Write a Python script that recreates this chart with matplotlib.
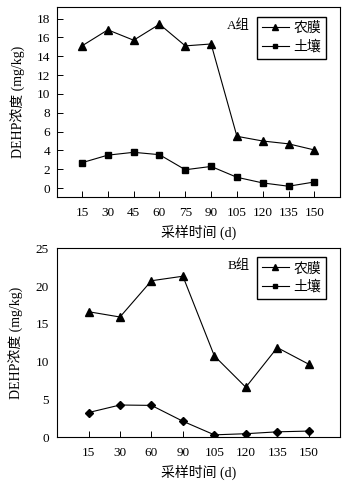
import matplotlib
matplotlib.use("Agg")
import matplotlib.pyplot as plt
from matplotlib.lines import Line2D

plt.rcParams['font.family'] = ['Liberation Serif', 'Noto Sans CJK SC']
plt.rcParams['font.size'] = 9.5

# group A
days_a = [15, 30, 45, 60, 75, 90, 105, 120, 135, 150]
film_a = [15.1, 16.8, 15.7, 17.4, 15.1, 15.3, 5.5, 5.0, 4.7, 4.05]
soil_a = [2.7, 3.5, 3.8, 3.55, 1.95, 2.3, 1.15, 0.55, 0.2, 0.65]

# group B (categorical x)
days_b = ['15', '30', '60', '90', '105', '120', '135', '150']
film_b = [16.6, 15.9, 20.7, 21.3, 10.75, 6.6, 11.85, 9.65]
soil_b = [3.25, 4.25, 4.2, 2.1, 0.3, 0.45, 0.7, 0.8]

fig = plt.figure(figsize=(3.5, 4.83), dpi=100)
ax1 = fig.add_axes([0.163, 0.592, 0.809, 0.393])
ax2 = fig.add_axes([0.163, 0.095, 0.809, 0.391])

lw = 0.8
leg_kw = dict(loc='upper right', frameon=True, fancybox=False, edgecolor='black',
              framealpha=1, handlelength=1.9, borderpad=0.35, labelspacing=0.35,
              handletextpad=0.35, borderaxespad=0, fontsize=10, markerscale=0.75)

ax1.plot(days_a, film_a, color='black', lw=lw, marker='^', ms=5.5, label='农膜')
ax1.plot(days_a, soil_a, color='black', lw=lw, marker='s', ms=4.5, label='土壤')
ax1.set_xlim(0.5, 165)
ax1.set_ylim(-0.95, 19.2)
ax1.set_xticks(days_a)
ax1.set_yticks(range(0, 19, 2))
ax1.text(0.64, 0.905, 'A组', transform=ax1.transAxes, ha='center', va='center')
ax1.legend(bbox_to_anchor=(0.95, 0.947), **leg_kw)

xb = range(len(days_b))
ax2.plot(xb, film_b, color='black', lw=lw, marker='^', ms=5.5)
ax2.plot(xb, soil_b, color='black', lw=lw, marker='D', ms=4.5)
ax2.set_xlim(-1, 8)
ax2.set_ylim(0, 25)
ax2.set_xticks(list(xb))
ax2.set_xticklabels(days_b)
ax2.set_yticks(range(0, 26, 5))
ax2.text(0.64, 0.91, 'B组', transform=ax2.transAxes, ha='center', va='center')
handles = [Line2D([], [], color='black', lw=lw, marker='^', ms=5.5),
           Line2D([], [], color='black', lw=lw, marker='s', ms=4.5)]
ax2.legend(handles, ['农膜', '土壤'], bbox_to_anchor=(0.95, 0.952), **leg_kw)

for ax in (ax1, ax2):
    ax.tick_params(direction='in', length=4, width=0.7, pad=7)
    for s in ax.spines.values():
        s.set_linewidth(0.8)
    ax.set_xlabel('采样时间 (d)', labelpad=4, fontsize=10)
    ax.set_ylabel('DEHP浓度 (mg/kg)', labelpad=8, fontsize=10)

ax1.tick_params(axis='y', pad=5)
ax2.tick_params(axis='y', length=0, pad=6)
fig.savefig('out.png', dpi=100)
